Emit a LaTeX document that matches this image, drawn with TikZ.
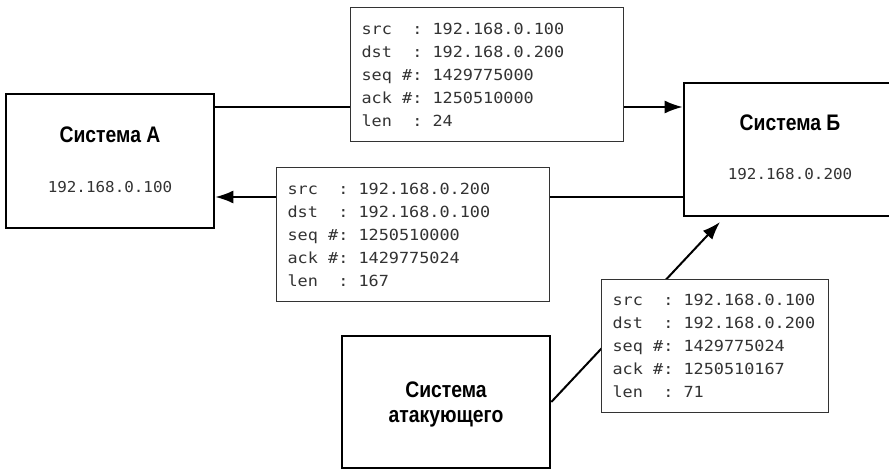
\documentclass[tikz,border=0pt]{standalone}
\usepackage{fontspec}
\setmainfont{Liberation Sans}
\newfontfamily\pktfont[FakeStretch=1.1]{DejaVu Sans Mono}
\newfontfamily\ipfont[FakeStretch=1.06]{DejaVu Sans Mono}
\newfontfamily\sysfont[FakeStretch=0.86]{Liberation Sans}
\newcommand\sk{\phantom{0}}
\usetikzlibrary{arrows.meta}
\begin{document}
\begin{tikzpicture}[x=1pt,y=-1pt,
  sysbox/.style={draw=black, line width=2.6pt, fill=white, inner sep=0pt},
  syslabel/.style={font=\sysfont\bfseries\fontsize{22.5}{25}\selectfont, align=center, inner sep=0pt},
  iplabel/.style={font=\ipfont\fontsize{15}{18}\selectfont, text=black!80, inner sep=0pt},
  pkt/.style={draw=black!80, line width=1.2pt, fill=white, anchor=north west,
    inner xsep=11pt, inner ysep=0pt, align=left,
    font=\pktfont\fontsize{15.3}{23}\selectfont, text=black!80},
  conn/.style={line width=2pt, -{Latex[length=18pt,width=13pt]}}]
\useasboundingbox (0,0) rectangle (889,470);
% systems
\node[sysbox, minimum width=208pt, minimum height=134pt] (A) at (110,161) {};
\node[syslabel] (Alab) at (110,135) {Система А};
\node[iplabel] (Aip) at (110,187) {192.168.0.100};
\node[sysbox, minimum width=212pt, minimum height=133pt] (B) at (790,149.5) {};
\node[syslabel] (Blab) at (790,123) {Система Б};
\node[iplabel] (Bip) at (790,174) {192.168.0.200};
\node[sysbox, minimum width=208pt, minimum height=132pt] (C) at (446,402) {};
\node[syslabel] (Clab) at (446,404) {Система\\атакующего};
% connectors
\coordinate (r1) at (0,107);
\coordinate (r2) at (0,197);
\coordinate (bt) at (720,222);
\draw[conn] (A.east |- r1) -- (B.west |- r1);
\draw[conn] (B.west |- r2) -- (A.east |- r2);
\draw[conn] (C.east) -- (bt);
% packets
\node[pkt, text width=251pt, minimum height=134pt] (P1) at (350,7)
  {src\sk\sk:\sk192.168.0.100\\dst\sk\sk:\sk192.168.0.200\\seq\sk\#:\sk1429775000\\ack\sk\#:\sk1250510000\\len\sk\sk:\sk24};
\node[pkt, text width=251pt, minimum height=134pt] (P2) at (276,167)
  {src\sk\sk:\sk192.168.0.200\\dst\sk\sk:\sk192.168.0.100\\seq\sk\#:\sk1250510000\\ack\sk\#:\sk1429775024\\len\sk\sk:\sk167};
\node[pkt, text width=205pt, minimum height=133pt] (P3) at (601,279)
  {src\sk\sk:\sk192.168.0.100\\dst\sk\sk:\sk192.168.0.200\\seq\sk\#:\sk1429775024\\ack\sk\#:\sk1250510167\\len\sk\sk:\sk71};
\end{tikzpicture}
\end{document}
